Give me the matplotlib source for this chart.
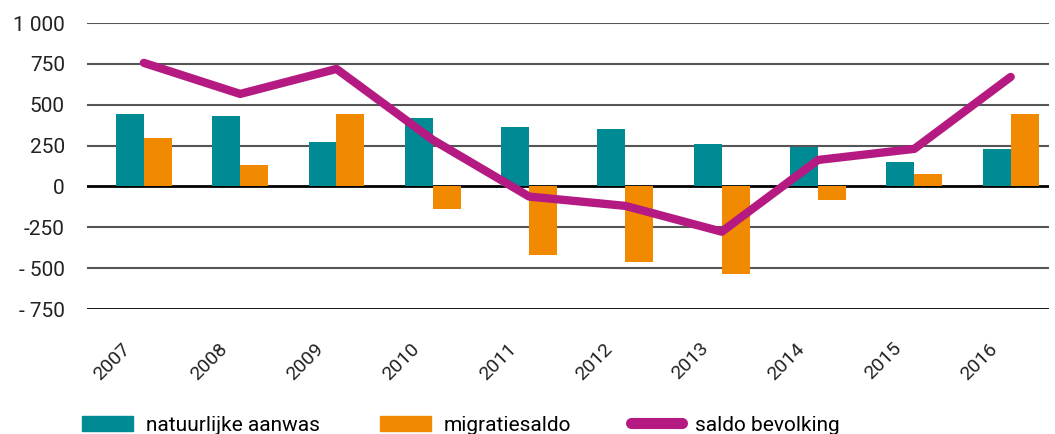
import matplotlib.pyplot as plt
import matplotlib.transforms as mtransforms
import numpy as np
from matplotlib import font_manager
from matplotlib.patches import Patch
from matplotlib.lines import Line2D

years = ['2007', '2008', '2009', '2010', '2011', '2012', '2013', '2014', '2015', '2016']
natuurlijke_aanwas = [444, 431, 272, 419, 366, 352, 260, 242, 150, 230]
migratiesaldo = [297, 131, 444, -136, -419, -462, -534, -83, 76, 444]
saldo_bevolking = [756, 566, 719, 285, -62, -119, -277, 162, 230, 670]

y_ticks = [-750, -500, -250, 0, 250, 500, 750, 1000]
y_labels = ['- 750', '- 500', '-250', '0', '250', '500', '750', '1 000']

installed = {f.name for f in font_manager.fontManager.ttflist}
fam = [f for f in ['Liberation Sans Narrow', 'Roboto', 'DejaVu Sans'] if f in installed]
plt.rcParams['font.family'] = fam

teal = '#008b94'
orange = '#f18a00'
magenta = '#b51a82'

fig = plt.figure(figsize=(10.55, 4.34), dpi=100)
ax = fig.add_axes([0.0825, 0.288, 0.912, 0.659])

x = np.arange(len(years))
w = 0.29
ax.bar(x - w / 2, natuurlijke_aanwas, w, color=teal, zorder=2)
ax.bar(x + w / 2, migratiesaldo, w, color=orange, zorder=2)
ax.plot(x, saldo_bevolking, color=magenta, lw=6, solid_capstyle='round', zorder=3)

# horizontale rasterlijnen
for t in y_ticks:
    if t == 0 or t == -750:
        ax.axhline(t, color='black', lw=2.0, zorder=1)
    else:
        ax.axhline(t, color='#555555', lw=1.5, zorder=1)

ax.set_ylim(-750, 1000)
ax.set_xlim(-0.59, 9.4)
ax.set_yticks(y_ticks)
ax.set_yticklabels(y_labels, fontsize=15)
ax.set_xticks(x)
ax.set_xticklabels(years, rotation=45, ha='right', rotation_mode='anchor', fontsize=14)
ax.tick_params(axis='both', length=0, colors='#222222')
ax.tick_params(axis='y', pad=16)
ax.tick_params(axis='x', pad=22)
for s in ax.spines.values():
    s.set_visible(False)

# jaartallen iets naar links schuiven
shift = mtransforms.ScaledTranslation(-16 / 72, 0, fig.dpi_scale_trans)
for lbl in ax.get_xticklabels():
    lbl.set_transform(lbl.get_transform() + shift)

handles = [Patch(color=teal), Patch(color=orange),
           Line2D([], [], color=magenta, lw=8, solid_capstyle='round')]
labels = ['natuurlijke aanwas', 'migratiesaldo', 'saldo bevolking']
fig.legend(handles, labels, loc='lower left', bbox_to_anchor=(0.06, -0.045), ncol=3,
           frameon=False, fontsize=15, handlelength=2.45, handleheight=0.75,
           columnspacing=2.9, handletextpad=0.6)

plt.savefig('out.png', dpi=100)
